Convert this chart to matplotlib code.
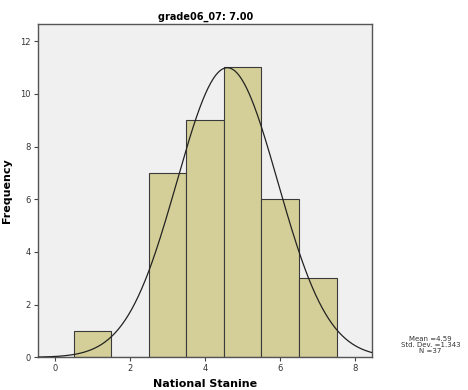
import numpy as np
import matplotlib
matplotlib.use("Agg")
import matplotlib.pyplot as plt

# Data
stanines = [1, 2, 3, 4, 5, 6, 7]
counts = [1, 0, 7, 9, 11, 6, 3]
mean_val = 4.59
std_val = 1.343
n_val = 37
title = "grade06_07: 7.00"
xticks = [0, 2, 4, 6, 8]
yticks = [0, 2, 4, 6, 8, 10, 12]

fig = plt.figure(figsize=(4.68, 3.9), dpi=100)
ax = fig.add_axes([0.0812, 0.0838, 0.7143, 0.8547])
ax.set_facecolor("#f0f0f0")

ax.bar(stanines, counts, width=1.0, color="#d4cf98", edgecolor="#3a3a3a", linewidth=0.8, zorder=2)

xs = np.linspace(-0.45, 8.45, 400)
ys = n_val * 1.0 / (std_val * np.sqrt(2 * np.pi)) * np.exp(-0.5 * ((xs - mean_val) / std_val) ** 2)
ax.plot(xs, ys, color="#222222", linewidth=0.9, zorder=3)

ax.set_xlim(-0.45, 8.45)
ax.set_ylim(0, 12.65)
ax.set_xticks(xticks)
ax.set_yticks(yticks)
ax.tick_params(labelsize=6, length=3, width=0.8, color="#444444", labelcolor="#333333", direction="out", pad=2)
for s in ax.spines.values():
    s.set_color("#555555")
    s.set_linewidth(1.0)

ax.set_title(title, fontsize=7, fontweight="bold", pad=3)
ax.set_xlabel("National Stanine", fontsize=8, fontweight="bold", labelpad=4)
ax.set_ylabel("Frequency", fontsize=8, fontweight="bold", labelpad=6)

fig.text(0.92, 0.115, "Mean =%.2f\nStd. Dev. =%.3f\nN =%d" % (mean_val, std_val, n_val),
         fontsize=5, ha="center", va="center", linespacing=0.95, color="#333333")

fig.savefig("out.png", dpi=100, facecolor="white")
